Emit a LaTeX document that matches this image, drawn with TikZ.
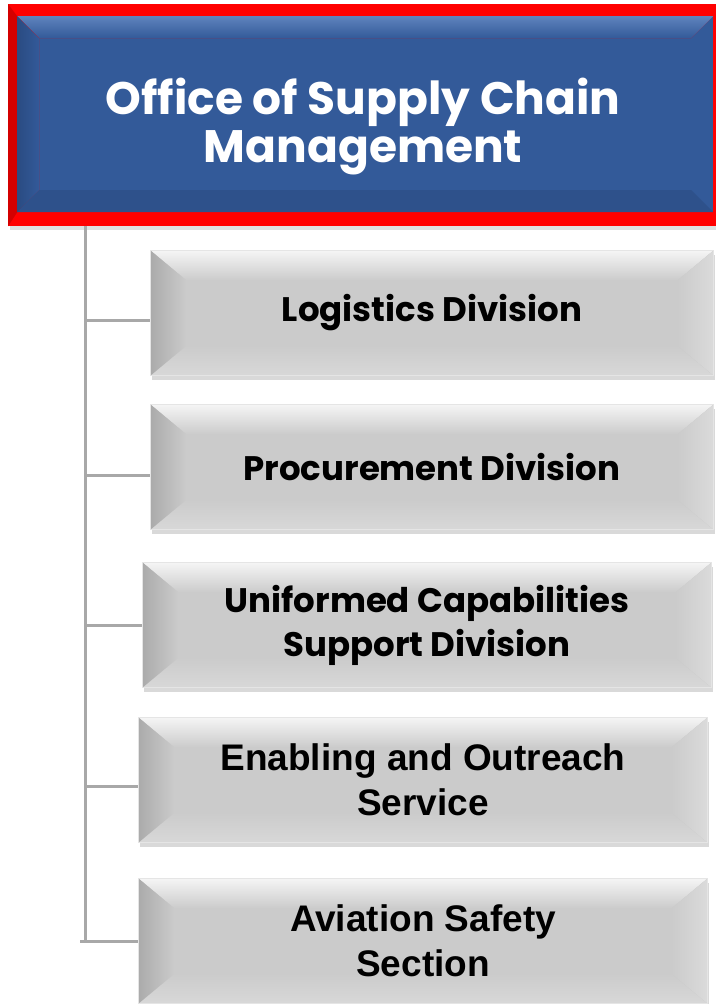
\documentclass[tikz,border=0pt]{standalone}
\usepackage{fontspec}
\setmainfont{Liberation Sans}
\newfontfamily\gothic{Poppins}
\usetikzlibrary{positioning, shadows}

\definecolor{chainblue}{HTML}{335A99}
\definecolor{chainbluelt}{HTML}{5F83BD}
\definecolor{chainbluedk}{HTML}{2A4B82}
\definecolor{framered}{HTML}{FF0000}
\definecolor{framedark}{HTML}{D40000}
\definecolor{boxgray}{HTML}{CBCBCB}
\definecolor{bevdark}{HTML}{ABABAB}
\definecolor{linkgray}{HTML}{A8A8A8}

\tikzset{
  headbox/.style={rectangle, anchor=north west, fill=framered, inner sep=0pt,
    minimum width=710pt, minimum height=222pt, align=center, text=white,
    font=\gothic\bfseries\fontsize{45.5}{48}\selectfont,
    drop shadow={shadow xshift=2pt, shadow yshift=-4pt, opacity=0.25},
    path picture={
      \coordinate (hnw) at ([shift={(9pt,-12pt)}]path picture bounding box.north west);
      \coordinate (hse) at ([shift={(-5pt,14pt)}]path picture bounding box.south east);
      \coordinate (hne) at (hnw -| hse);
      \coordinate (hsw) at (hnw |- hse);
      \fill[framedark] (path picture bounding box.north west) -- (hnw) -- (hsw)
        -- (path picture bounding box.south west) -- cycle;
      \fill[chainblue] (hnw) rectangle (hse);
      \fill[top color=chainbluelt, bottom color=chainblue] (hnw) -- (hne)
        -- ([shift={(-22pt,-22pt)}]hne) -- ([shift={(22pt,-22pt)}]hnw) -- cycle;
      \fill[left color=chainbluedk, right color=chainblue] (hnw)
        -- ([shift={(22pt,-22pt)}]hnw) -- ([shift={(22pt,22pt)}]hsw) -- (hsw) -- cycle;
      \fill[chainbluedk!60!chainblue] (hsw) -- ([shift={(22pt,22pt)}]hsw)
        -- ([shift={(-22pt,22pt)}]hse) -- (hse) -- cycle;
    }},
  bevelbox/.style={rectangle, anchor=north west, fill=boxgray, draw=white!80!gray,
    line width=1pt, inner sep=0pt, align=center, minimum height=125pt,
    drop shadow={shadow xshift=1pt, shadow yshift=-4pt, opacity=0.3},
    path picture={
      \coordinate (bnw) at (path picture bounding box.north west);
      \coordinate (bne) at (path picture bounding box.north east);
      \coordinate (bsw) at (path picture bounding box.south west);
      \coordinate (bse) at (path picture bounding box.south east);
      \coordinate (inw) at ([shift={(36pt,-30pt)}]bnw);
      \coordinate (ine) at ([shift={(-36pt,-30pt)}]bne);
      \coordinate (isw) at ([shift={(36pt,30pt)}]bsw);
      \coordinate (ise) at ([shift={(-36pt,30pt)}]bse);
      \fill[top color=white!92!gray, bottom color=boxgray] (bnw) -- (bne) -- (ine) -- (inw) -- cycle;
      \fill[top color=boxgray, bottom color=boxgray!75!white] (bsw) -- (bse) -- (ise) -- (isw) -- cycle;
      \fill[left color=bevdark, right color=boxgray] (bnw) -- (inw) -- (isw) -- (bsw) -- cycle;
      \fill[left color=boxgray, right color=boxgray!70!white] (bne) -- (ine) -- (ise) -- (bse) -- cycle;
    }},
  gothicfont/.style={font=\gothic\bfseries\fontsize{34}{44}\selectfont},
  arialfont/.style={font=\bfseries\fontsize{37}{45}\selectfont},
  link/.style={draw=linkgray, line width=3pt},
}

\begin{document}
\begin{tikzpicture}[x=1pt, y=-1pt]
\useasboundingbox (0,0) rectangle (715,1004);

% office and its divisions
\node[headbox] (office) at (8,4) {\raisebox{-18pt}[60pt][60pt]{\begin{tabular}{@{}c@{}}Office of Supply Chain\\Management\end{tabular}}};
\node[bevelbox, gothicfont, minimum width=563pt] (logist) at (150,250) {Logistics Division};
\node[bevelbox, gothicfont, minimum width=563pt] (procure) at (150,404) {Procurement Division};
\node[bevelbox, gothicfont, minimum width=569pt] (uniform) at (142,562) {Uniformed Capabilities\\Support Division};
\node[bevelbox, arialfont, minimum width=569pt] (outreach) at (138,717) {Enabling and Outreach\\Service};
\node[bevelbox, arialfont, minimum width=569pt] (aviation) at (138,878) {Aviation Safety\\Section};

% org lines
\coordinate (trunk) at (85,0);
\draw[link] (office.south -| trunk) -- (trunk |- aviation.west) -- (aviation.west);
\draw[link] ([xshift=-5pt]trunk |- aviation.west) -- (aviation.west);
\foreach \d/\dy in {logist/7, procure/8, uniform/0, outreach/6}
  \draw[link] ([yshift=-\dy pt]trunk |- \d.west) -- ([yshift=-\dy pt]\d.west);

\end{tikzpicture}
\end{document}
